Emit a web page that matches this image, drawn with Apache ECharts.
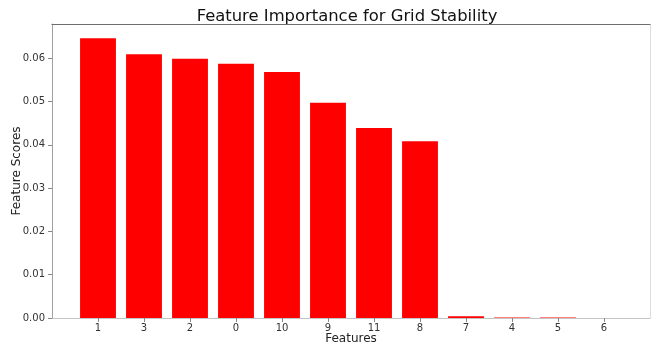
<!DOCTYPE html>
<html>
<head>
<meta charset="utf-8">
<script src="https://cdn.jsdelivr.net/npm/echarts@6/dist/echarts.min.js"></script>
<style>
html,body{margin:0;padding:0;background:#fff;}
#chart{width:662px;height:347px;}
</style>
</head>
<body>
<div id="chart"></div>
<script>
var categories = ['1','3','2','0','10','9','11','8','7','4','5','6'];
var scores = [0.0646, 0.0609, 0.0599, 0.0587, 0.0568, 0.0497, 0.0439, 0.0408, 0.0004, 0.0001, 0.0001, 0.0];
var yTicks = [0, 0.01, 0.02, 0.03, 0.04, 0.05, 0.06];
var yMax = 0.0679;
var titleText = 'Feature Importance for Grid Stability';
var xName = 'Features';
var yName = 'Feature Scores';

var FONT = 'DejaVu Sans';
var chart = echarts.init(document.getElementById('chart'), null, {renderer: 'canvas'});
var hidden = {show: false};
chart.setOption({
  animation: false,
  backgroundColor: '#ffffff',
  title: {
    text: titleText,
    left: 342, top: 4, textAlign: 'center',
    textStyle: {fontFamily: FONT, fontSize: 16.4, fontWeight: 'normal', color: '#111'}
  },
  grid: [
    {left: 52, right: 12, top: 24, bottom: 29, show: false, containLabel: false, outerBoundsMode: 'none'},
    {left: 75, right: 35, top: 24, bottom: 29, show: false, containLabel: false, outerBoundsMode: 'none'}
  ],
  xAxis: [
    {gridIndex: 0, type: 'value', min: 0, max: 1, position: 'bottom',
     axisLine: {show: true, onZero: false, lineStyle: {color: '#c4c4c4', width: 1}},
     axisTick: hidden, axisLabel: hidden, splitLine: hidden,
     name: xName, nameLocation: 'middle', nameGap: 15, nameMoveOverlap: false,
     nameTextStyle: {fontFamily: FONT, fontSize: 12, color: '#222'}},
    {gridIndex: 0, type: 'value', min: 0, max: 1, position: 'top',
     axisLine: {show: true, onZero: false, lineStyle: {color: '#6e6e6e', width: 1.2}},
     axisTick: hidden, axisLabel: hidden, splitLine: hidden},
    {gridIndex: 1, type: 'category', data: categories, position: 'bottom',
     axisLine: {show: false, onZero: false},
     axisTick: {show: true, alignWithLabel: true, length: 4, lineStyle: {color: '#888'}},
     axisLabel: {fontFamily: FONT, fontSize: 10, color: '#333', margin: 5},
     splitLine: hidden}
  ],
  yAxis: [
    {gridIndex: 0, type: 'value', min: 0, max: yMax, position: 'left',
     axisLine: {show: true, onZero: false, lineStyle: {color: '#a0a0a0', width: 1}},
     axisTick: {show: true, length: 4, customValues: yTicks, lineStyle: {color: '#888'}},
     axisLabel: {fontFamily: FONT, fontSize: 10, color: '#333', margin: 7,
                 customValues: yTicks,
                 formatter: function (v) { return v.toFixed(2); }},
     splitLine: hidden,
     name: yName, nameLocation: 'middle', nameGap: 29, nameMoveOverlap: false,
     nameTextStyle: {fontFamily: FONT, fontSize: 12, color: '#222'}},
    {gridIndex: 0, type: 'value', min: 0, max: yMax, position: 'right',
     axisLine: {show: true, onZero: false, lineStyle: {color: '#dddddd', width: 1}},
     axisTick: hidden, axisLabel: hidden, splitLine: hidden},
    {gridIndex: 1, type: 'value', min: 0, max: yMax,
     show: false, splitLine: hidden}
  ],
  series: [{
    type: 'bar',
    xAxisIndex: 2, yAxisIndex: 2,
    data: scores,
    barWidth: '78%',
    itemStyle: {color: '#ff0000'}
  }]
});
</script>
</body>
</html>
